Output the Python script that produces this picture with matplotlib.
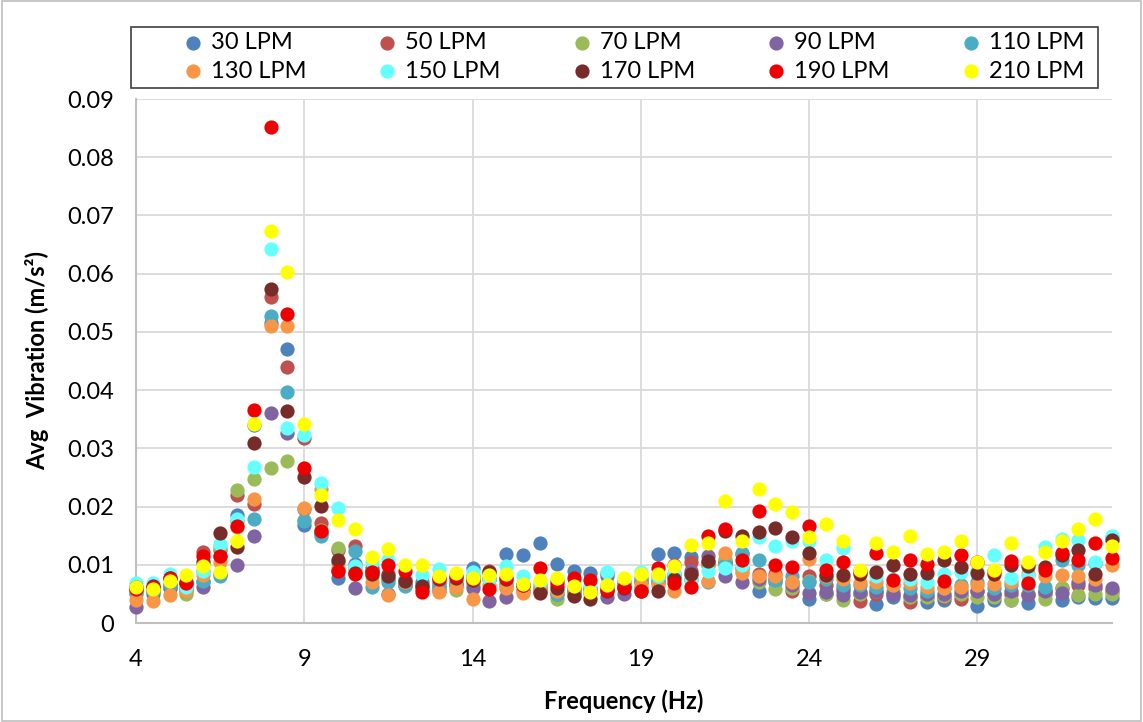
import numpy as np
import matplotlib
matplotlib.use("Agg")
import matplotlib.pyplot as plt
from matplotlib.patches import Rectangle
from matplotlib.ticker import FuncFormatter

plt.rcParams['font.family'] = ['Lato', 'DejaVu Sans']

# frequency points (Hz), 0.5 Hz steps
freq = np.arange(4, 33.01, 0.5)

# average vibration per flow rate (x 1e-3 m/s^2)
lpm30 = [5.5, 5.8, 6.5, 6.0, 7.0, 12.5, 18.5, 34.0, 51.5, 47.0, 16.8, 15.5, 7.8, 10.2, 9.0, 7.5, 6.5, 7.0, 5.5, 6.5,
         9.5, 7.5, 11.8, 11.7, 13.8, 10.2, 9.0, 8.6, 8.0, 7.0, 7.0, 11.9, 12.0, 11.4, 10.0, 10.5, 9.5, 5.5, 7.0, 7.0,
         4.1, 5.0, 5.5, 5.0, 3.3, 4.5, 4.5, 3.6, 4.0, 4.8, 2.9, 4.0, 4.0, 3.4, 5.0, 4.0, 4.5, 4.3, 4.3]
lpm50 = [5.8, 6.0, 7.5, 6.5, 12.2, 11.5, 22.0, 20.5, 56.0, 44.0, 31.8, 17.1, 12.5, 13.2, 9.5, 8.5, 7.5, 5.8, 7.0, 7.0,
         7.0, 9.0, 6.5, 6.5, 6.0, 6.5, 6.0, 6.0, 8.6, 6.5, 7.5, 8.0, 10.0, 10.4, 10.5, 10.5, 11.8, 8.5, 8.5, 5.5,
         8.0, 6.5, 6.0, 3.7, 5.0, 5.0, 3.6, 4.5, 4.5, 4.2, 5.5, 5.0, 5.0, 5.0, 5.5, 6.0, 6.5, 6.0, 5.5]
lpm70 = [5.0, 5.5, 6.0, 5.0, 9.0, 13.0, 22.8, 24.7, 26.7, 27.8, 17.7, 16.0, 12.8, 9.5, 8.0, 7.5, 7.0, 6.0, 6.5, 5.7,
         6.5, 7.5, 6.0, 6.0, 5.5, 4.2, 5.0, 5.0, 6.0, 6.0, 7.8, 7.5, 8.0, 8.5, 10.0, 11.0, 9.0, 7.0, 5.8, 6.0,
         7.2, 5.0, 4.0, 5.0, 5.5, 5.5, 4.5, 4.5, 4.6, 5.0, 4.5, 4.5, 4.0, 5.0, 4.2, 6.0, 4.8, 5.0, 5.0]
lpm90 = [2.8, 5.0, 6.0, 5.8, 6.2, 8.5, 10.0, 14.9, 36.0, 32.7, 19.5, 15.5, 9.0, 6.0, 9.0, 5.0, 6.5, 6.0, 6.0, 6.5,
         6.0, 3.7, 4.4, 5.5, 5.5, 5.0, 5.5, 5.5, 4.5, 5.0, 6.0, 7.0, 8.5, 9.0, 11.5, 8.1, 7.0, 7.5, 7.5, 6.5,
         5.2, 5.4, 4.8, 5.4, 5.5, 5.0, 4.8, 5.0, 5.0, 5.5, 5.5, 5.0, 5.5, 4.8, 5.5, 5.2, 7.0, 6.5, 6.0]
lpm110 = [5.2, 5.5, 6.5, 5.5, 7.2, 8.0, 17.5, 17.9, 52.8, 39.6, 17.5, 14.9, 10.5, 12.3, 6.2, 7.0, 6.3, 6.5, 6.5, 6.5,
          8.0, 7.5, 7.0, 6.5, 6.5, 5.0, 5.5, 5.5, 6.0, 6.5, 7.0, 7.0, 8.0, 7.5, 7.0, 10.0, 12.1, 10.8, 7.3, 8.0,
          7.0, 7.5, 6.5, 6.5, 6.2, 6.5, 6.0, 5.5, 6.0, 6.5, 7.0, 6.0, 6.5, 6.5, 6.2, 10.8, 10.0, 10.3, 14.8]
lpm130 = [4.0, 3.7, 4.8, 5.5, 8.2, 10.5, 16.5, 21.3, 51.0, 51.0, 19.8, 23.0, 9.4, 9.0, 7.1, 4.8, 7.0, 6.0, 5.4, 6.2,
          4.1, 6.5, 6.0, 5.1, 6.0, 5.5, 4.8, 5.5, 6.5, 6.5, 6.5, 6.5, 5.5, 7.4, 7.2, 12.0, 8.6, 8.0, 8.0, 7.0,
          11.0, 8.0, 7.5, 6.8, 7.0, 6.5, 6.9, 6.2, 6.0, 6.2, 6.5, 6.7, 7.0, 8.5, 8.0, 8.2, 8.0, 7.5, 10.0]
lpm150 = [6.8, 6.8, 8.5, 6.2, 9.0, 13.5, 17.8, 26.8, 64.2, 33.5, 32.3, 24.1, 19.8, 9.8, 10.5, 10.8, 7.8, 8.3, 9.2, 8.0,
          8.8, 7.5, 9.8, 8.0, 7.0, 7.5, 6.5, 6.5, 8.8, 7.5, 8.8, 8.0, 8.5, 7.5, 9.0, 9.4, 10.0, 14.8, 13.2, 14.0,
          14.0, 10.8, 12.8, 8.8, 8.0, 7.5, 7.5, 7.0, 8.5, 8.8, 9.0, 11.7, 7.8, 8.0, 13.0, 14.5, 14.3, 10.5, 14.9]
lpm170 = [6.2, 6.4, 7.8, 7.0, 10.5, 15.5, 13.0, 31.0, 57.3, 36.4, 25.0, 20.1, 10.9, 8.6, 8.5, 8.1, 7.2, 6.4, 7.5, 7.8,
          7.3, 8.8, 7.5, 6.5, 5.1, 6.0, 4.6, 4.2, 5.5, 6.0, 5.5, 5.5, 7.5, 8.5, 10.7, 15.8, 14.9, 15.6, 16.4, 14.7,
          12.0, 8.2, 8.2, 8.5, 8.8, 10.0, 8.5, 8.6, 10.8, 9.7, 8.6, 8.5, 10.0, 9.8, 9.7, 11.7, 12.5, 8.4, 14.3]
lpm190 = [5.8, 6.2, 7.8, 6.8, 11.5, 11.5, 16.7, 36.6, 85.2, 53.0, 26.7, 15.8, 9.0, 8.4, 8.8, 10.0, 9.0, 5.3, 7.8, 8.0,
          7.5, 5.8, 7.7, 6.5, 9.4, 7.1, 7.7, 7.3, 5.7, 6.1, 5.5, 9.4, 6.8, 6.1, 14.9, 16.1, 10.9, 19.3, 10.0, 9.6,
          16.7, 9.1, 10.4, 9.0, 12.0, 7.4, 10.8, 10.1, 7.2, 11.7, 10.4, 9.0, 10.7, 6.9, 9.1, 12.0, 10.9, 13.7, 11.1]
lpm210 = [6.1, 5.8, 7.2, 8.2, 9.8, 8.8, 14.0, 34.2, 67.3, 60.3, 34.1, 22.0, 17.7, 16.1, 11.3, 12.7, 10.0, 10.0, 8.0, 8.6,
          7.7, 8.2, 8.5, 6.7, 7.4, 7.8, 6.4, 5.4, 6.6, 7.8, 8.4, 8.4, 9.8, 13.4, 13.7, 21.0, 14.0, 23.1, 20.4, 19.0,
          14.8, 17.0, 14.1, 9.1, 13.8, 12.2, 14.9, 11.8, 12.2, 14.0, 10.5, 9.1, 13.7, 10.4, 12.2, 14.0, 16.1, 17.8, 13.2]

labels = ['30 LPM', '50 LPM', '70 LPM', '90 LPM', '110 LPM',
          '130 LPM', '150 LPM', '170 LPM', '190 LPM', '210 LPM']
series = [lpm30, lpm50, lpm70, lpm90, lpm110, lpm130, lpm150, lpm170, lpm190, lpm210]
colors = ['#4F81BD', '#C0504D', '#9BBB59', '#8064A2', '#4BACC6',
          '#F79646', '#66FFFF', '#772C2A', '#EE0000', '#FFFF00']

fig = plt.figure(figsize=(11.43, 7.22), dpi=100)
ax = fig.add_axes([136 / 1143, 99 / 722, 976 / 1143, 524 / 722])

handles = []
for i, (vals, lab, col) in enumerate(zip(series, labels, colors)):
    h = ax.scatter(freq, np.array(vals) / 1000, s=105, color=col, linewidths=0,
                   label=lab, zorder=3 + i, clip_on=False)
    handles.append(h)

ax.set_xlim(4, 33)
ax.set_ylim(0, 0.09)
ax.set_xticks([4, 9, 14, 19, 24, 29])
ax.set_yticks(np.arange(0, 0.0901, 0.01))
ax.yaxis.set_major_formatter(FuncFormatter(lambda v, p: '0' if abs(v) < 1e-9 else f'{v:.2f}'))
ax.tick_params(length=0, labelsize=17, colors='black')
ax.tick_params(axis='x', pad=19)
ax.tick_params(axis='y', pad=16)
ax.grid(color='#D9D9D9', lw=1.3, zorder=0)
ax.set_axisbelow(True)
for s in ['top', 'right']:
    ax.spines[s].set_visible(False)
for s in ['left', 'bottom']:
    ax.spines[s].set_color('#BFBFBF')
    ax.spines[s].set_linewidth(1.5)

ax.set_xlabel('Frequency (Hz)', fontsize=17, fontweight='bold', labelpad=14)
ax.set_ylabel('Avg  Vibration (m/s²)', fontsize=17, fontweight='bold', labelpad=13)

# legend box drawn separately, entries spread across it (row-major order)
fig.patches.append(Rectangle((131 / 1143, 1 - 88 / 722), 967 / 1143, 61 / 722,
                             transform=fig.transFigure, fill=False,
                             edgecolor='#404040', lw=1.2))
order = [0, 5, 1, 6, 2, 7, 3, 8, 4, 9]
fig.legend(handles=[handles[k] for k in order], ncol=5, frameon=False, fontsize=17,
           loc='upper left', mode='expand',
           bbox_to_anchor=(181 / 1143, 1 - 32 / 722, 903 / 1143, 0),
           bbox_transform=fig.transFigure,
           handlelength=1.0, handletextpad=0.25, labelspacing=0.32, borderpad=0.0,
           borderaxespad=0.0, markerscale=1.0, scatterpoints=1)

# chart area border
fig.patches.append(Rectangle((0.002, 0.002), 0.996, 0.996, transform=fig.transFigure,
                             fill=False, edgecolor='#BFBFBF', lw=1.2))

fig.savefig('out.png', dpi=100)
